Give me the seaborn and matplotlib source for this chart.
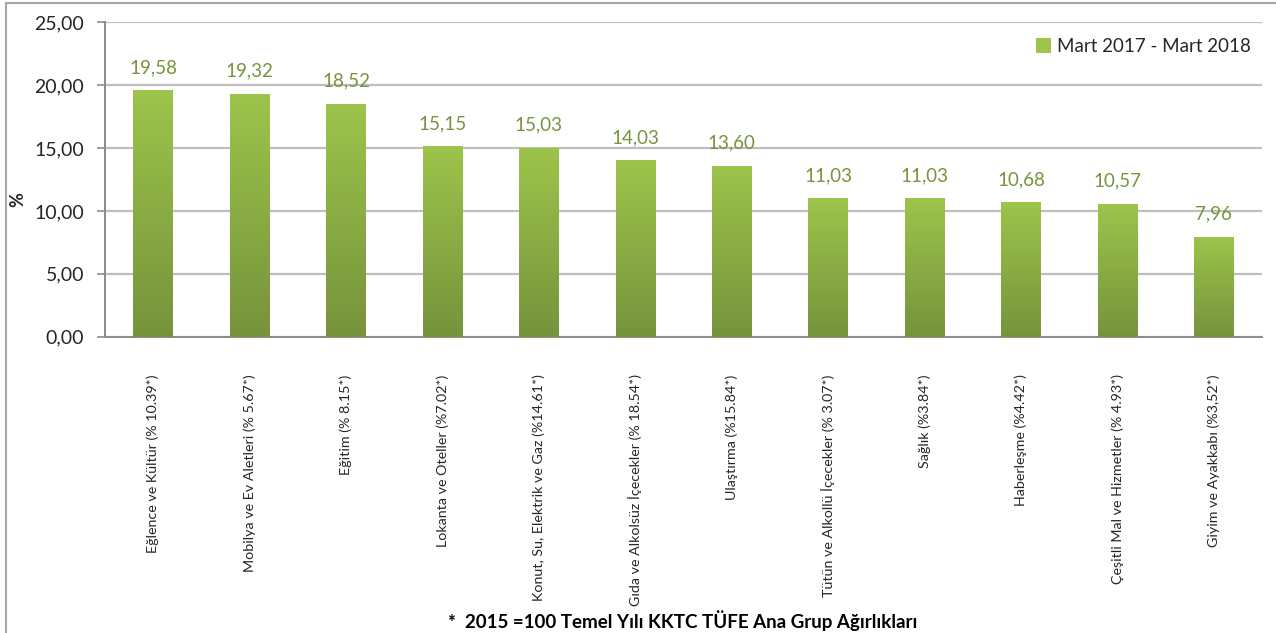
import numpy as np
import pandas as pd
import matplotlib
matplotlib.use("Agg")
import matplotlib.pyplot as plt
import seaborn as sns
from matplotlib.colors import LinearSegmentedColormap
from matplotlib.lines import Line2D
from matplotlib.patches import Patch

# ── Data ───────────────────────────────────────────────────────────────────────
categories = [
    "Eğlence ve Kültür (% 10.39*)",
    "Mobilya ve Ev Aletleri (% 5.67*)",
    "Eğitim (% 8.15*)",
    "Lokanta ve Oteller (%7.02*)",
    "Konut, Su, Elektrik ve Gaz (%14.61*)",
    "Gıda ve Alkolsüz İçecekler (% 18.54*)",
    "Ulaştırma (%15.84*)",
    "Tütün ve Alkollü İçecekler (% 3.07*)",
    "Sağlık (%3.84*)",
    "Haberleşme (%4.42*)",
    "Çeşitli Mal ve Hizmetler (% 4.93*)",
    "Giyim ve Ayakkabı (%3,52*)",
]
values = [19.58, 19.32, 18.52, 15.15, 15.03, 14.03, 13.60, 11.03, 11.03, 10.68, 10.57, 7.96]
series_name = "Mart 2017 - Mart 2018"
y_ticks = [0, 5, 10, 15, 20, 25]
footnote = "*  2015 =100 Temel Yılı KKTC TÜFE Ana Grup Ağırlıkları"

# ── Style ──────────────────────────────────────────────────────────────────────
GREEN_TOP = "#9DC44B"
GREEN_BOT = "#76933C"
LABEL_GREEN = "#77933C"
GRID = "#BFBFBF"
AXIS = "#8C8C8C"

sns.set_theme(style="white")
plt.rcParams["font.family"] = ["Lato", "DejaVu Sans"]

df = pd.DataFrame({"grup": categories, "deger": values})

fig = plt.figure(figsize=(12.76, 6.33), dpi=100)
ax = fig.add_axes([0.0823, 0.468, 0.9067, 0.497])

sns.barplot(data=df, x="grup", y="deger", color=GREEN_TOP, width=0.41,
            saturation=1, ax=ax, zorder=3)

# vertical gradient on each bar
cmap = LinearSegmentedColormap.from_list("g", [GREEN_BOT, GREEN_TOP])
grad = np.linspace(0, 1, 256).reshape(-1, 1)
for bar in ax.patches:
    x0, y0 = bar.get_x(), bar.get_y()
    w, h = bar.get_width(), bar.get_height()
    im = ax.imshow(grad, cmap=cmap, origin="lower", aspect="auto",
                   extent=[x0, x0 + w, y0, y0 + h], zorder=4)
    im.set_clip_path(bar)
    bar.set_edgecolor("none")

# value labels
for i, v in enumerate(values):
    ax.annotate(f"{v:.2f}".replace(".", ","), (i, v), xytext=(0, 10),
                textcoords="offset points", ha="center", va="bottom",
                fontsize=13.5, color=LABEL_GREEN, zorder=5)

ax.set_xlim(-0.5, len(categories) - 0.5)
ax.set_ylim(0, 25)
ax.set_yticks(y_ticks)
ax.set_yticklabels([f"{t:.2f}".replace(".", ",") for t in y_ticks], fontsize=14)
ax.yaxis.grid(True, color=GRID, lw=1.6, zorder=0)
ax.set_axisbelow(True)

ax.set_xticks(range(len(categories)))
ax.set_xticklabels(categories, rotation=90, fontsize=10.3, va="top", ha="center")
ax.set_xticks(np.arange(-0.5, len(categories)), minor=True)
ax.tick_params(axis="x", which="major", length=0, pad=27)
ax.tick_params(axis="x", which="minor", length=6, width=1.2, color=AXIS, direction="out")
ax.tick_params(axis="y", length=6, width=1.2, color=AXIS, direction="out", left=True, pad=9)

for side in ["top", "right"]:
    ax.spines[side].set_visible(False)
for side in ["left", "bottom"]:
    ax.spines[side].set_color(AXIS)
    ax.spines[side].set_linewidth(1.4)

ax.set_xlabel("")
ax.set_ylabel("%", fontsize=13, fontweight="bold")
ax.yaxis.set_label_coords(-0.068, 0.435)

handle = Patch(facecolor=GREEN_TOP, edgecolor="none")
ax.legend([handle], [series_name], loc="upper right", frameon=False,
          fontsize=13.5, handlelength=0.8, handleheight=0.8, handletextpad=0.3,
          bbox_to_anchor=(1.0, 0.985), borderaxespad=0.2)

fig.text(0.535, 0.003, footnote, ha="center", va="bottom",
         fontsize=13.5, fontweight="bold", color="black")

# outer chart frame
fig.add_artist(Line2D([6 / 1276, 6 / 1276], [0, 1 - 3 / 633], color="#A6A6A6", lw=1.5,
                      transform=fig.transFigure))
fig.add_artist(Line2D([6 / 1276, 1], [1 - 3 / 633, 1 - 3 / 633], color="#A6A6A6", lw=1.5,
                      transform=fig.transFigure))

plt.savefig("out.png", dpi=100)
plt.close()
